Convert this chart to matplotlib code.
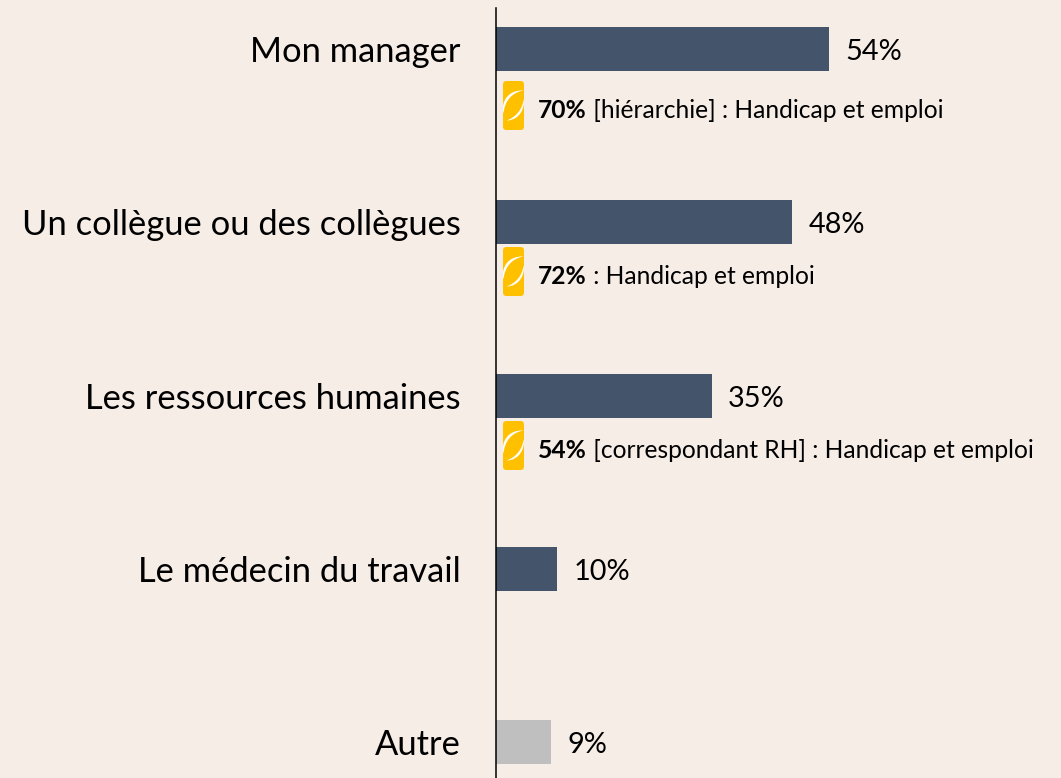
import matplotlib
matplotlib.use("Agg")
import matplotlib.pyplot as plt
from matplotlib.patches import FancyBboxPatch, PathPatch
from matplotlib.path import Path

categories = ["Mon manager", "Un collègue ou des collègues", "Les ressources humaines",
              "Le médecin du travail", "Autre"]
values = [54, 48, 35, 10, 9]
bar_colors = ["#44546A", "#44546A", "#44546A", "#44546A", "#BFBFBF"]
note_bold = ["70%", "72%", "54%"]
note_text = [" [hiérarchie] : Handicap et emploi", " : Handicap et emploi",
             " [correspondant RH] : Handicap et emploi"]
# vertical position of each note, in pixels from the top
icon_y = [105.5, 271.5, 445.5]
note_y = [110.5, 276.5, 450.5]

W, H = 1061, 778
BG = "#F6EDE7"
plt.rcParams["font.family"] = ["Lato", "DejaVu Sans"]

fig = plt.figure(figsize=(W / 100, H / 100), dpi=100, facecolor=BG)

# axes box goes from the vertical line to the right edge of the picture
top_px, bottom_px = 8, 778
left_px = 495.5
ax = fig.add_axes([left_px / W, 0, 1 - left_px / W, (bottom_px - top_px) / H], facecolor=BG)
px_per_pct = 6.185
row_px = 173.3
ax.set_xlim(0, (W - left_px) / px_per_pct)
ax.set_ylim((bottom_px - 49) / row_px, (top_px - 49) / row_px)

ax.barh(range(len(values)), values, height=44 / row_px, color=bar_colors)
for i, v in enumerate(values):
    ax.text(v + 16 / px_per_pct, i + 3 / row_px, f"{v}%", va="center", ha="left", fontsize=20.8, color="black")

ax.set_yticks(range(len(categories)))
ax.set_yticklabels(categories, fontsize=24.8, color="black")
ax.tick_params(axis="y", length=0, pad=25)
ax.set_xticks([])
for s in ["top", "right", "bottom"]:
    ax.spines[s].set_visible(False)
ax.spines["left"].set_linewidth(1.1)
ax.spines["left"].set_color("black")


def add_icon(cy):
    # yellow badge with the white swoosh, drawn in pixels
    x0, x1 = 503, 524
    y0, y1 = cy - 24.5, cy + 24.5
    fig.add_artist(FancyBboxPatch((x0, H - y1), x1 - x0, y1 - y0,
                                  boxstyle="round,pad=0,rounding_size=3.5",
                                  transform=None, facecolor="#FFC000", edgecolor="none"))
    cx = (x0 + x1) / 2
    codes = [Path.MOVETO, Path.CURVE4, Path.CURVE4, Path.CURVE4, Path.CURVE4, Path.CURVE4, Path.CURVE4]
    top = Path([(cx + 10, cy - 15), (cx - 5, cy - 16), (cx - 13, cy - 4), (cx - 10, cy + 8),
                (cx - 9, cy - 4), (cx - 2, cy - 13), (cx + 10, cy - 15)], codes)
    bot = Path([(cx - 7, cy + 15), (cx + 6, cy + 15), (cx + 12, cy + 2), (cx + 10, cy - 6),
                (cx + 9, cy + 4), (cx + 2, cy + 12), (cx - 7, cy + 15)], codes)
    for p in (top, bot):
        flipped = Path([(x, H - y) for x, y in p.vertices], p.codes)
        fig.add_artist(PathPatch(flipped, transform=None, facecolor="white", edgecolor="none"))


for cy, ny, bold, rest in zip(icon_y, note_y, note_bold, note_text):
    add_icon(cy)
    y = 1 - ny / H
    t = fig.text(538 / W, y, bold, fontsize=17.7, fontweight="bold", va="center", ha="left")
    fig.canvas.draw()
    bb = t.get_window_extent()
    fig.text(bb.x1 / W, y, rest, fontsize=17.7, va="center", ha="left")

fig.savefig("out.png", dpi=100, facecolor=BG)
